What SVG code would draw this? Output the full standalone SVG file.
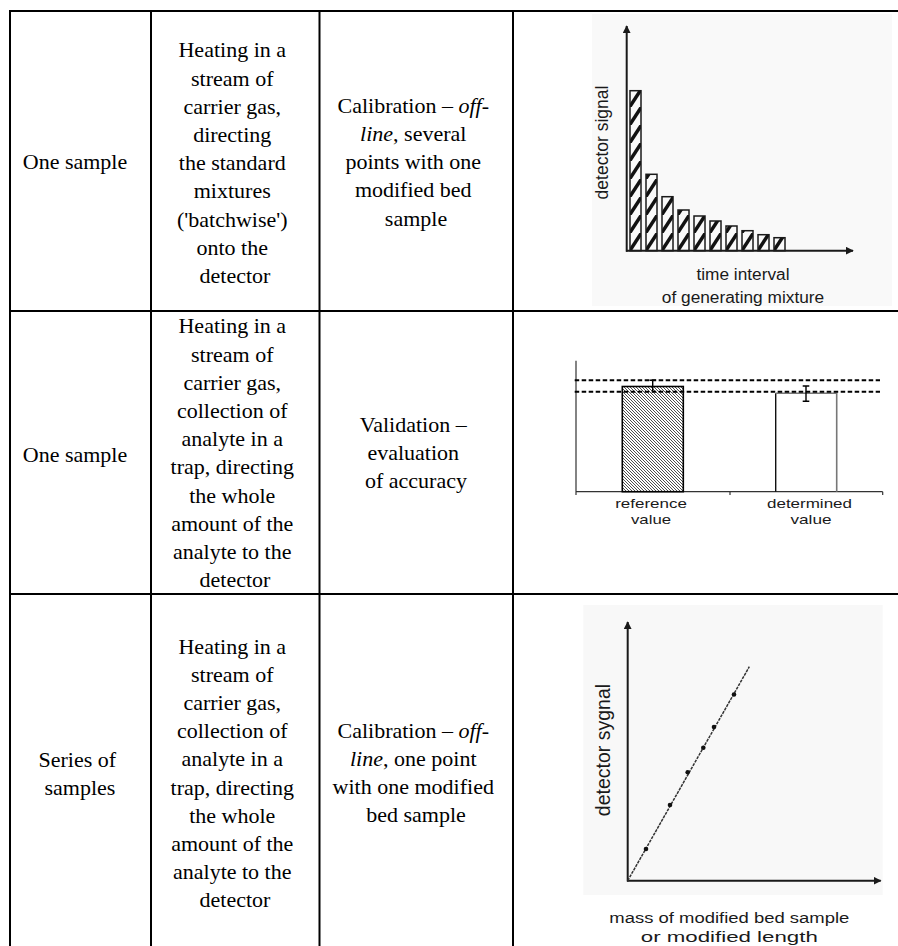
<svg xmlns="http://www.w3.org/2000/svg" width="898" height="946" viewBox="0 0 898 946">
<defs>
<style>
.cell{font-family:'Liberation Serif','DejaVu Serif',serif;font-size:22px;fill:#000;text-anchor:middle}
.lbl{font-family:'Liberation Sans','DejaVu Sans',sans-serif;fill:#1a1a1a;text-anchor:middle}
.grid{stroke:#000;stroke-width:2;fill:none}
.axis{stroke:#1a1a1a;stroke-width:2;fill:none}
.dash{stroke:#000;stroke-width:2;stroke-dasharray:4.5 2.5;fill:none}
</style>
<pattern id="hatch1" patternUnits="userSpaceOnUse" x="630" y="251" width="16" height="18">
<path d="M-1,19 L12,-1" stroke="#111" stroke-width="3.5"/>
</pattern>
<pattern id="hatch2" patternUnits="userSpaceOnUse" width="3" height="3">
<path d="M0,0 L3,3 M-1,2 L1,4 M2,-1 L4,1" stroke="#222" stroke-width="0.8"/>
</pattern>
<marker id="arr" viewBox="0 0 10 10" refX="9" refY="5" markerWidth="4" markerHeight="4" orient="auto" markerUnits="strokeWidth">
<path d="M0,0 L10,5 L0,10 z" fill="#1a1a1a"/>
</marker>
</defs>
<rect width="898" height="946" fill="#fff"/>

<g id="table-grid">
<path class="grid" d="M10,11 H898 M10,311 H898 M10,594 H898 M10,10 V946 M151,10 V946 M319.5,10 V946 M513,10 V946"/>
</g>

<g id="row1">
<text class="cell" font-family="Liberation Serif, DejaVu Serif, serif" x="75" y="169">One sample</text>
<text class="cell" font-family="Liberation Serif, DejaVu Serif, serif">
<tspan x="235" y="57.3">Heating in a</tspan>
<tspan x="235" y="85.5">stream of</tspan>
<tspan x="235" y="113.7">carrier gas,</tspan>
<tspan x="235" y="141.9">directing</tspan>
<tspan x="235" y="170.1">the standard</tspan>
<tspan x="235" y="198.3">mixtures</tspan>
<tspan x="235" y="226.5">('batchwise')</tspan>
<tspan x="235" y="254.7">onto the</tspan>
<tspan x="235" y="282.9">detector</tspan>
</text>
<text class="cell" font-family="Liberation Serif, DejaVu Serif, serif">
<tspan x="416" y="112.7">Calibration – <tspan font-style="italic">off-</tspan></tspan>
<tspan x="416" y="140.9"><tspan font-style="italic">line</tspan>, several</tspan>
<tspan x="416" y="169.1">points with one</tspan>
<tspan x="416" y="197.3">modified bed</tspan>
<tspan x="416" y="225.5">sample</tspan>
</text>
</g>

<g id="chart1">
<rect x="592" y="14" width="300" height="292" fill="#f9f9f9"/>
<g stroke="#1a1a1a" stroke-width="1.5">
<rect x="630" y="90.7" width="11" height="160" fill="url(#hatch1)"/>
<rect x="646" y="174.3" width="11" height="76.4" fill="url(#hatch1)"/>
<rect x="662" y="196.7" width="11" height="54" fill="url(#hatch1)"/>
<rect x="678" y="210" width="11" height="40.7" fill="url(#hatch1)"/>
<rect x="694" y="216" width="11" height="34.7" fill="url(#hatch1)"/>
<rect x="710" y="221" width="11" height="29.7" fill="url(#hatch1)"/>
<rect x="726" y="226" width="11" height="24.7" fill="url(#hatch1)"/>
<rect x="742" y="230.7" width="11" height="20" fill="url(#hatch1)"/>
<rect x="758" y="234.7" width="11" height="16" fill="url(#hatch1)"/>
<rect x="774" y="237.7" width="11" height="13" fill="url(#hatch1)"/>
</g>
<path class="axis" d="M626.7,251.7 V26" marker-end="url(#arr)"/>
<path class="axis" d="M626,250.7 H853" marker-end="url(#arr)"/>
<text class="lbl" font-size="17.5" transform="translate(608,142.5) rotate(-90)">detector signal</text>
<text class="lbl" font-size="17.3" x="743" y="279.5">time interval</text>
<text class="lbl" font-size="17.3" x="743" y="303">of generating mixture</text>
</g>

<g id="row2">
<text class="cell" font-family="Liberation Serif, DejaVu Serif, serif" x="75" y="461.7">One sample</text>
<text class="cell" font-family="Liberation Serif, DejaVu Serif, serif">
<tspan x="235" y="333.3">Heating in a</tspan>
<tspan x="235" y="361.5">stream of</tspan>
<tspan x="235" y="389.7">carrier gas,</tspan>
<tspan x="235" y="417.9">collection of</tspan>
<tspan x="235" y="446.1">analyte in a</tspan>
<tspan x="235" y="474.3">trap, directing</tspan>
<tspan x="235" y="502.5">the whole</tspan>
<tspan x="235" y="530.7">amount of the</tspan>
<tspan x="235" y="558.9">analyte to the</tspan>
<tspan x="235" y="587.1">detector</tspan>
</text>
<text class="cell" font-family="Liberation Serif, DejaVu Serif, serif">
<tspan x="416" y="431.7">Validation –</tspan>
<tspan x="416" y="459.9">evaluation</tspan>
<tspan x="416" y="488.1">of accuracy</tspan>
</text>
</g>

<g id="chart2">
<path d="M576,360.7 V491.7 M576,491.7 H882.7 M576,491.7 V495 M730,491.7 V495 M882.7,491.7 V495" stroke="#333" stroke-width="1.2" fill="none"/>
<rect x="622.3" y="386.5" width="61" height="105.2" fill="url(#hatch2)" stroke="#000" stroke-width="1.6"/>
<path d="M775.7,491.7 V393.3" stroke="#111" stroke-width="1.4"/>
<path d="M775.7,393.3 H836.7 V491.7" stroke="#777" stroke-width="1.6" fill="none"/>
<path class="dash" d="M574.7,380.3 H880 M574.7,391.7 H880"/>
<path d="M652.7,380.3 V392 M649.5,380.3 H656" stroke="#000" stroke-width="1.4"/>
<path d="M806,386 V401.3 M802.7,386 H809.3 M802.7,401.3 H809.3" stroke="#000" stroke-width="1.4"/>
<text class="lbl" font-size="13.5" x="651" y="508" textLength="71.7" lengthAdjust="spacingAndGlyphs">reference</text>
<text class="lbl" font-size="13.5" x="651" y="524" textLength="40" lengthAdjust="spacingAndGlyphs">value</text>
<text class="lbl" font-size="13.5" x="809.5" y="508" textLength="85" lengthAdjust="spacingAndGlyphs">determined</text>
<text class="lbl" font-size="13.5" x="811" y="524" textLength="41" lengthAdjust="spacingAndGlyphs">value</text>
</g>

<g id="row3">
<text class="cell" font-family="Liberation Serif, DejaVu Serif, serif">
<tspan x="80" y="766.7">Series of</tspan>
<tspan x="80" y="794.9">samples</tspan>
</text>
<text class="cell" font-family="Liberation Serif, DejaVu Serif, serif">
<tspan x="235" y="654">Heating in a</tspan>
<tspan x="235" y="682.1">stream of</tspan>
<tspan x="235" y="710.2">carrier gas,</tspan>
<tspan x="235" y="738.3">collection of</tspan>
<tspan x="235" y="766.4">analyte in a</tspan>
<tspan x="235" y="794.5">trap, directing</tspan>
<tspan x="235" y="822.6">the whole</tspan>
<tspan x="235" y="850.7">amount of the</tspan>
<tspan x="235" y="878.8">analyte to the</tspan>
<tspan x="235" y="906.9">detector</tspan>
</text>
<text class="cell" font-family="Liberation Serif, DejaVu Serif, serif">
<tspan x="416" y="737.7">Calibration – <tspan font-style="italic">off-</tspan></tspan>
<tspan x="416" y="765.9"><tspan font-style="italic">line</tspan>, one point</tspan>
<tspan x="416" y="794.1">with one modified</tspan>
<tspan x="416" y="822.3">bed sample</tspan>
</text>
</g>

<g id="chart3">
<rect x="583.3" y="605" width="299.4" height="290" fill="#f8f8f8"/>
<path class="axis" d="M627.7,881.5 V622" marker-end="url(#arr)"/>
<path class="axis" d="M627,880.7 H880.7" marker-end="url(#arr)"/>
<path d="M627.7,880.7 L749.3,666.7" stroke="#333" stroke-width="1.5" stroke-dasharray="3 1" fill="none"/>
<g fill="#111">
<circle cx="646" cy="849" r="2.3"/>
<circle cx="670" cy="805" r="2.3"/>
<circle cx="687.7" cy="772.3" r="2.3"/>
<circle cx="703.3" cy="747.7" r="2.3"/>
<circle cx="714" cy="727" r="2.3"/>
<circle cx="734" cy="694.5" r="2.3"/>
</g>
<text class="lbl" font-size="19.5" transform="translate(609.5,750) rotate(-90)">detector sygnal</text>
<text class="lbl" font-size="15.5" x="729.3" y="922.5" textLength="240" lengthAdjust="spacingAndGlyphs">mass of modified bed sample</text>
<text class="lbl" font-size="15.5" x="729.3" y="941.7" textLength="177" lengthAdjust="spacingAndGlyphs">or modified length</text>
</g>
</svg>
